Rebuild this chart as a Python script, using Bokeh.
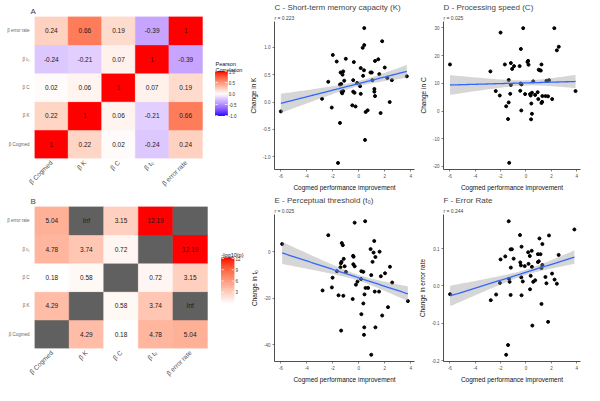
import numpy as np
from bokeh.plotting import figure
from bokeh.models import FixedTicker, PrintfTickFormatter, Title, Range1d
from bokeh.layouts import row, column
from bokeh.embed import file_html
from bokeh.resources import INLINE
from bokeh.core.properties import value

FONT = "Liberation Sans"
INF = float("inf")

# ---------------- data ----------------
labels = ["β Cogmed", "β K", "β C", "β t₀", "β error rate"]

# Pearson correlation, one list per row (bottom -> top), columns in label order
corr_cogmed = [1, 0.22, 0.02, -0.24, 0.24]
corr_K = [0.22, 1, 0.06, -0.21, 0.66]
corr_C = [0.02, 0.06, 1, 0.07, 0.19]
corr_t0 = [-0.24, -0.21, 0.07, 1, -0.39]
corr_err = [0.24, 0.66, 0.19, -0.39, 1]

# -log10(p); None = diagonal (NA), INF = Inf
nlp_cogmed = [None, 4.29, 0.18, 4.78, 5.04]
nlp_K = [4.29, None, 0.58, 3.74, INF]
nlp_C = [0.18, 0.58, None, 0.72, 3.15]
nlp_t0 = [4.78, 3.74, 0.72, None, 12.19]
nlp_err = [5.04, INF, 3.15, 12.19, None]

corr_ticks = [-1.0, -0.5, 0.0, 0.5, 1.0]
nlp_ticks = [3, 6, 9, 12]

# scatter panels
cx = [-6.0, 0.42, 1.8, 0.42, 0.3, -2.0, -1.0, -1.7, 1.5, 1.25, -0.38, 2.0, 0.15, 0.4, -1.2, -1.4, 0.9, 1.0,
      -1.25, 1.58, 0.33, -2.35, -1.12, -0.43, 1.05, 2.2, 2.55, 3.7, -0.13, -1.35, -1.45, 0.1, -1.2, -1.33,
      -1.28, -0.43, -0.33, 0.15, 1.2, 1.2, 1.25, -2.83, 2.38, -2.08, -0.5, -0.25, 0.53, 0.68, 1.68, -1.45,
      0.48, -1.6]
cy = [-0.17, 1.35, 1.11, 1.04, 0.99, 0.86, 0.79, 0.74, 0.78, 0.75, 0.73, 0.63, 0.62, 0.58, 0.56, 0.54, 0.54,
      0.54, 0.5, 0.51, 0.48, 0.37, 0.39, 0.40, 0.40, 0.44, 0.40, 0.47, 0.35, 0.33, 0.32, 0.29, 0.2, 0.19,
      0.16, 0.19, 0.17, 0.15, 0.24, 0.19, 0.11, 0.06, 0.0, -0.10, -0.06, -0.08, -0.18, -0.15, -0.2, -0.38,
      -0.69, -1.11]

dx = [-5.98, -2.0, -0.22, 2.23, 2.58, 2.43, -0.4, 0.17, 0.12, -1.19, -1.66, 1.22, -0.94, -1.09, -0.5, 0.2,
      1.0, 1.09, 1.17, -2.8, -1.36, 0.57, 1.61, 1.81, -1.19, -0.35, -0.42, 3.9, -2.38, -2.06, -1.24, -0.45,
      -0.07, 0.32, 0.47, 0.37, 0.72, 0.92, 0.97, 1.29, 1.54, 1.74, 2.06, 1.27, 1.22, 0.42, -1.36, -1.56,
      -0.37, 0.47, -1.41, 0.4, -1.32]
dy = [16.8, 28.3, 29.9, 29.9, 23.2, 21.9, 22.4, 18.1, 17.7, 17.3, 16.8, 16.8, 16.2, 15.2, 16.2, 16.7, 14.9,
      14.7, 14.6, 14.3, 11.2, 10.7, 10.9, 11.1, 9.4, 9.6, 9.9, 7.2, 7.2, 5.6, 6.2, 7.3, 6.1, 6.1, 6.6, 5.6,
      5.8, 6.8, 4.3, 5.4, 5.4, 5.3, 4.3, 3.3, 2.9, 2.7, 3.1, 1.7, 0.2, -1.0, -2.9, -3.0, -18.7]

ex = [-5.9, -0.32, 0.49, -2.35, -1.31, -1.23, 1.19, 0.91, 1.14, 1.28, 1.6, -0.44, -0.4, -1.16, -1.33, -1.38,
      -1.09, -1.41, -0.42, -0.32, 1.06, 2.4, -1.68, -0.99, 0.2, 0.35, 0.96, 2.02, 1.7, -2.02, -0.1, -0.22,
      0.17, 0.52, 0.72, -2.07, -2.79, 1.23, 1.56, 2.57, -1.56, -1.19, 0.44, -0.47, 0.35, 2.25, 3.78, 0.2,
      1.8, -1.36, 0.42, 1.28, 0.4, 0.96]
ey = [3.4, 12.6, 13.2, 7.2, 3.8, 2.9, 4.7, 1.2, -0.3, -2.2, 0.1, -1.7, -2.1, -3.0, -4.3, -4.9, -6.2, -6.6,
      -5.3, -6.2, -4.3, -6.4, -8.3, -8.6, -8.3, -8.6, -10.0, -9.2, -10.5, -11.1, -12.8, -14.1, -11.7, -15.5,
      -15.5, -15.3, -16.6, -17.1, -17.1, -13.2, -18.7, -18.9, -18.3, -20.3, -22.2, -23.8, -21.2, -26.8,
      -27.4, -33.9, -32.5, -32.5, -35.7, -44.3]

fx = [-5.97, -1.36, 3.81, -0.47, 1.06, 1.81, 1.29, -1.21, -1.11, -0.35, 0.17, 0.45, 0.94, 1.14, 0.3, -2.0,
      -1.63, -0.97, 2.57, -0.45, -0.4, 0.94, 1.01, -0.1, 0.2, -1.19, 0.47, 1.29, 1.22, 2.05, -0.37, 0.37,
      1.53, 2.25, -1.34, -1.29, -0.25, 0.57, 0.72, -2.05, 1.61, 2.43, 0.32, -2.35, -1.21, -0.35, -2.77,
      1.22, 1.74, 0.5, -1.41, -1.56]
fy = [-0.022, 0.173, 0.151, 0.136, 0.127, 0.135, 0.112, 0.098, 0.098, 0.105, 0.09, 0.094, 0.085, 0.085,
      0.08, 0.071, 0.079, 0.073, 0.083, 0.063, 0.055, 0.064, 0.066, 0.053, 0.059, 0.049, 0.051, 0.056,
      0.048, 0.033, 0.023, 0.027, 0.024, 0.017, 0.019, 0.011, 0.012, 0.011, 0.015, 0.008, 0.007, 0.006,
      -0.009, -0.023, -0.024, -0.025, -0.038, -0.048, -0.096, -0.106, -0.158, -0.184]

# half-width of the shaded confidence band at the left end of each fit
ci_left_c = 0.175
ci_left_d = 3.55
ci_left_e = 4.75
ci_left_f = 0.0275

x_ticks = [-6, -4, -2, 0, 2, 4]
c_ticks = [-1.0, -0.5, 0.0, 0.5, 1.0]
d_ticks = [-20, -10, 0, 10, 20, 30]
e_ticks = [-40, -20, 0]
f_ticks = [-0.2, -0.1, 0.0, 0.1]

# ---------------- colour helpers (Lab interpolation like ggplot2) ----------------
M = np.array([[0.4124564, 0.3575761, 0.1804375],
              [0.2126729, 0.7151522, 0.0721750],
              [0.0193339, 0.1191920, 0.9503041]])
Minv = np.linalg.inv(M)
WP = np.array([0.95047, 1.0, 1.08883])


def _lin(c):
    return np.where(c <= 0.04045, c / 12.92, ((c + 0.055) / 1.055) ** 2.4)


def _gam(c):
    c = np.clip(c, 0, 1)
    return np.where(c <= 0.0031308, 12.92 * c, 1.055 * c ** (1 / 2.4) - 0.055)


def hex2lab(h):
    rgb = np.array([int(h[i:i + 2], 16) for i in (1, 3, 5)]) / 255.0
    xyz = M @ _lin(rgb) / WP
    d = 6 / 29
    f = np.where(xyz > d ** 3, np.cbrt(xyz), xyz / (3 * d * d) + 4 / 29)
    return np.array([116 * f[1] - 16, 500 * (f[0] - f[1]), 200 * (f[1] - f[2])])


def lab2hex(lab):
    L, a, b = lab
    fy_ = (L + 16) / 116
    f = np.array([fy_ + a / 500, fy_, fy_ - b / 200])
    d = 6 / 29
    xyz = np.where(f > d, f ** 3, 3 * d * d * (f - 4 / 29)) * WP
    rgb = _gam(Minv @ xyz)
    return "#%02x%02x%02x" % tuple(int(round(v * 255)) for v in rgb)


def grad(stops, t):
    labs = [hex2lab(s) for s in stops]
    n = len(stops) - 1
    t = min(max(t, 0.0), 1.0)
    i = min(int(t * n), n - 1)
    u = t * n - i
    return lab2hex(labs[i] * (1 - u) + labs[i + 1] * u)


DIV = ["#0000FF", "#FFFFFF", "#FF0000"]
SEQ = ["#FFFFFF", "#FF0000"]
NA_COL = "#606060"


# ---------------- heatmaps (with colour-bar legend inside the same figure) ----------------
def heatmap(rows, color_fn, text_fn, letter, w, h, bl, bt, bb, cell_w,
            pal, vmin, vmax, ticks, fmt, title_lines, bar_x, bar_y, title_px):
    fw = w - bl
    fh = h - bt - bb
    cell_h = fh / 5.0

    def xpx(px):
        return (px - bl) / cell_w

    def ypx(px):
        return (bt + fh - px) / cell_h

    p = figure(width=w, height=h, x_range=Range1d(0, fw / cell_w), y_range=Range1d(0, 5),
               output_backend="svg", toolbar_location=None,
               min_border_left=bl, min_border_right=0, min_border_top=bt, min_border_bottom=bb)
    xs, ys, cols, txt = [], [], [], []
    for yi, vals in enumerate(rows):
        for xi, v in enumerate(vals):
            xs.append(xi + 0.5)
            ys.append(yi + 0.5)
            cols.append(color_fn(v))
            txt.append(text_fn(v))
    p.rect(x=xs, y=ys, width=1, height=1, fill_color=cols, line_color=cols, line_width=0.4)
    p.text(x=xs, y=ys, text=txt, text_align="center", text_baseline="middle",
           text_font_size="6.5px", text_font=value(FONT), text_color="#1a1a1a")

    # colour bar
    x0, x1 = xpx(bar_x[0]), xpx(bar_x[1])
    yb, yt = ypx(bar_y[1]), ypx(bar_y[0])

    def vy(v):
        return yb + (np.asarray(v, float) - vmin) / (vmax - vmin) * (yt - yb)

    edges = vy(np.linspace(vmin, vmax, len(pal) + 1))
    p.quad(left=x0, right=x1, bottom=edges[:-1], top=edges[1:], fill_color=pal,
           line_color=pal, line_width=0.3)
    tk = vy(ticks)
    dxp = 2.4 / cell_w
    p.segment(x0=[x0] * len(ticks), x1=[x0 + dxp] * len(ticks), y0=tk, y1=tk,
              line_color="white", line_width=0.7)
    p.segment(x0=[x1 - dxp] * len(ticks), x1=[x1] * len(ticks), y0=tk, y1=tk,
              line_color="white", line_width=0.7)
    p.text(x=[x1 + 1.5 / cell_w] * len(ticks), y=tk, text=[fmt % t for t in ticks],
           text_baseline="middle", text_align="left", text_font_size="4.5px",
           text_font=value(FONT), text_color="#333333")
    p.text(x=[x0] * len(title_lines), y=[ypx(px) for px in title_px], text=title_lines,
           text_baseline="alphabetic", text_align="left", text_font_size="5.5px",
           text_font=value(FONT), text_color="#111111")

    p.outline_line_color = None
    p.grid.visible = False
    centers = [i + 0.5 for i in range(len(labels))]
    for ax in (p.xaxis[0], p.yaxis[0]):
        ax.ticker = FixedTicker(ticks=centers)
        ax.major_label_overrides = {c: lab for c, lab in zip(centers, labels)}
        ax.axis_line_color = None
        ax.major_tick_line_color = None
        ax.major_tick_out = 0
        ax.major_tick_in = 0
        ax.minor_tick_line_color = None
        ax.minor_tick_out = 0
        ax.minor_tick_in = 0
        ax.major_label_text_font = FONT
        ax.major_label_text_color = "#4D4D4D"
    p.xaxis.major_label_orientation = np.pi / 4
    p.xaxis.major_label_text_font_size = "6.5px"
    p.xaxis.major_label_standoff = 3
    p.yaxis.major_label_text_font_size = "4.5px"
    p.yaxis.major_label_standoff = 5
    p.yaxis.major_label_text_color = "#666666"
    p.add_layout(Title(text=letter, align="left", offset=-4, text_font_size="8px",
                       text_font_style="normal", text_font=FONT, standoff=2), "above")
    return p


corr_rows = [corr_cogmed, corr_K, corr_C, corr_t0, corr_err]
corr_pal = [grad(DIV, i / 255) for i in range(256)]
pA = heatmap(corr_rows,
             lambda v: grad(DIV, (v + 1) / 2),
             lambda v: "1" if v == 1 else "%.2f" % v,
             "A", 245, 193, 34, 16, 35, 33.6,
             corr_pal, -1.0, 1.0, corr_ticks, "%.1f", ["Pearson", "Correlation"],
             (215, 226.8), (71, 115), [63.0, 69.8])

nlp_rows = [nlp_cogmed, nlp_K, nlp_C, nlp_t0, nlp_err]
finite = [v for r in nlp_rows for v in r if v is not None and v != INF]
lo, hi = min(finite), max(finite)
seq_pal = [grad(SEQ, i / 255) for i in range(256)]


def nlp_color(v):
    if v is None or v == INF:
        return NA_COL
    return grad(SEQ, (v - lo) / (hi - lo))


def nlp_text(v):
    if v is None:
        return ""
    if v == INF:
        return "Inf"
    return "%.2f" % v


pB = heatmap(nlp_rows, nlp_color, nlp_text, "B", 245, 192, 34, 13, 37, 34.6,
             seq_pal, lo, hi, nlp_ticks, "%d", ["-log10(p)"],
             (221, 233.6), (64.3, 109.4), [61.5])


# ---------------- scatter panels ----------------
def scatter(x, y, ci_left, yr, yticks, yfmt, title, rtxt, ylabel, w, h, bl, br, bt, bb):
    p = figure(width=w, height=h, x_range=Range1d(-6.49, 4.29), y_range=Range1d(*yr),
               output_backend="svg", toolbar_location=None,
               min_border_left=bl, min_border_right=br, min_border_top=bt, min_border_bottom=bb)
    x = np.asarray(x, float)
    y = np.asarray(y, float)
    p.scatter(x, y, size=3.0, color="black")
    b, a = np.polyfit(x, y, 1)
    sxx = np.sum((x - x.mean()) ** 2)
    xs = np.linspace(x.min(), x.max(), 80)
    yh = a + b * xs
    shape = np.sqrt(1 / len(x) + (xs - x.mean()) ** 2 / sxx)
    hw = ci_left * shape / shape[0]
    p.varea(x=xs, y1=yh - hw, y2=yh + hw, fill_color="#999999", fill_alpha=0.4)
    p.line(xs, yh, line_color="#3366FF", line_width=1.3)
    p.grid.visible = False
    p.outline_line_color = None
    p.xaxis.ticker = FixedTicker(ticks=x_ticks)
    p.yaxis.ticker = FixedTicker(ticks=yticks)
    p.yaxis.formatter = PrintfTickFormatter(format=yfmt)
    p.xaxis.formatter = PrintfTickFormatter(format="%d")
    for ax in (p.xaxis[0], p.yaxis[0]):
        ax.axis_line_color = "#222222"
        ax.axis_line_width = 0.8
        ax.major_tick_line_color = "#333333"
        ax.major_tick_line_width = 0.6
        ax.major_tick_out = 2
        ax.major_tick_in = 0
        ax.minor_tick_line_color = None
        ax.minor_tick_out = 0
        ax.minor_tick_in = 0
        ax.major_label_text_font_size = "4.5px"
        ax.major_label_text_font = FONT
        ax.major_label_text_color = "#4D4D4D"
        ax.major_label_standoff = 2
        ax.axis_label_text_font_size = "6.5px"
        ax.axis_label_text_font = FONT
        ax.axis_label_text_font_style = "normal"
        ax.axis_label_text_color = "#111111"
        ax.axis_label_standoff = 3
    p.xaxis.axis_label = "Cogmed performance improvement"
    p.yaxis.axis_label = ylabel
    p.add_layout(Title(text=rtxt, align="left", text_font_size="5px", text_font_style="normal",
                       text_font=FONT, standoff=1), "above")
    p.add_layout(Title(text=title, align="left", text_font_size="8px", text_font_style="normal",
                       text_font=FONT, standoff=1), "above")
    return p


pC = scatter(cx, cy, ci_left_c, (-1.23, 1.47), c_ticks, "%.1f", "C - Short-term memory capacity (K)",
             "r =  0.223", "Change in K", 170, 193, 29, 1, 21, 18)
pD = scatter(dx, dy, ci_left_d, (-21.1, 32.3), d_ticks, "%d", "D - Processing speed (C)",
             "r =  0.025", "Change in C", 169, 193, 21, 4, 21, 18)
pE = scatter(ex, ey, ci_left_e, (-47.2, 16.1), e_ticks, "%d", "E - Perceptual threshold (t₀)",
             "r =  0.025", "Change in t₀", 170, 192, 29, 1, 18, 20)
pF = scatter(fx, fy, ci_left_f, (-0.202, 0.191), f_ticks, "%.1f", "F - Error Rate",
             "r =  0.244", "Change in error rate", 169, 192, 21, 4, 18, 20)

layout = row(column(pA, pB), column(pC, pE), column(pD, pF))
open("out.html", "w").write(file_html(layout, INLINE))
